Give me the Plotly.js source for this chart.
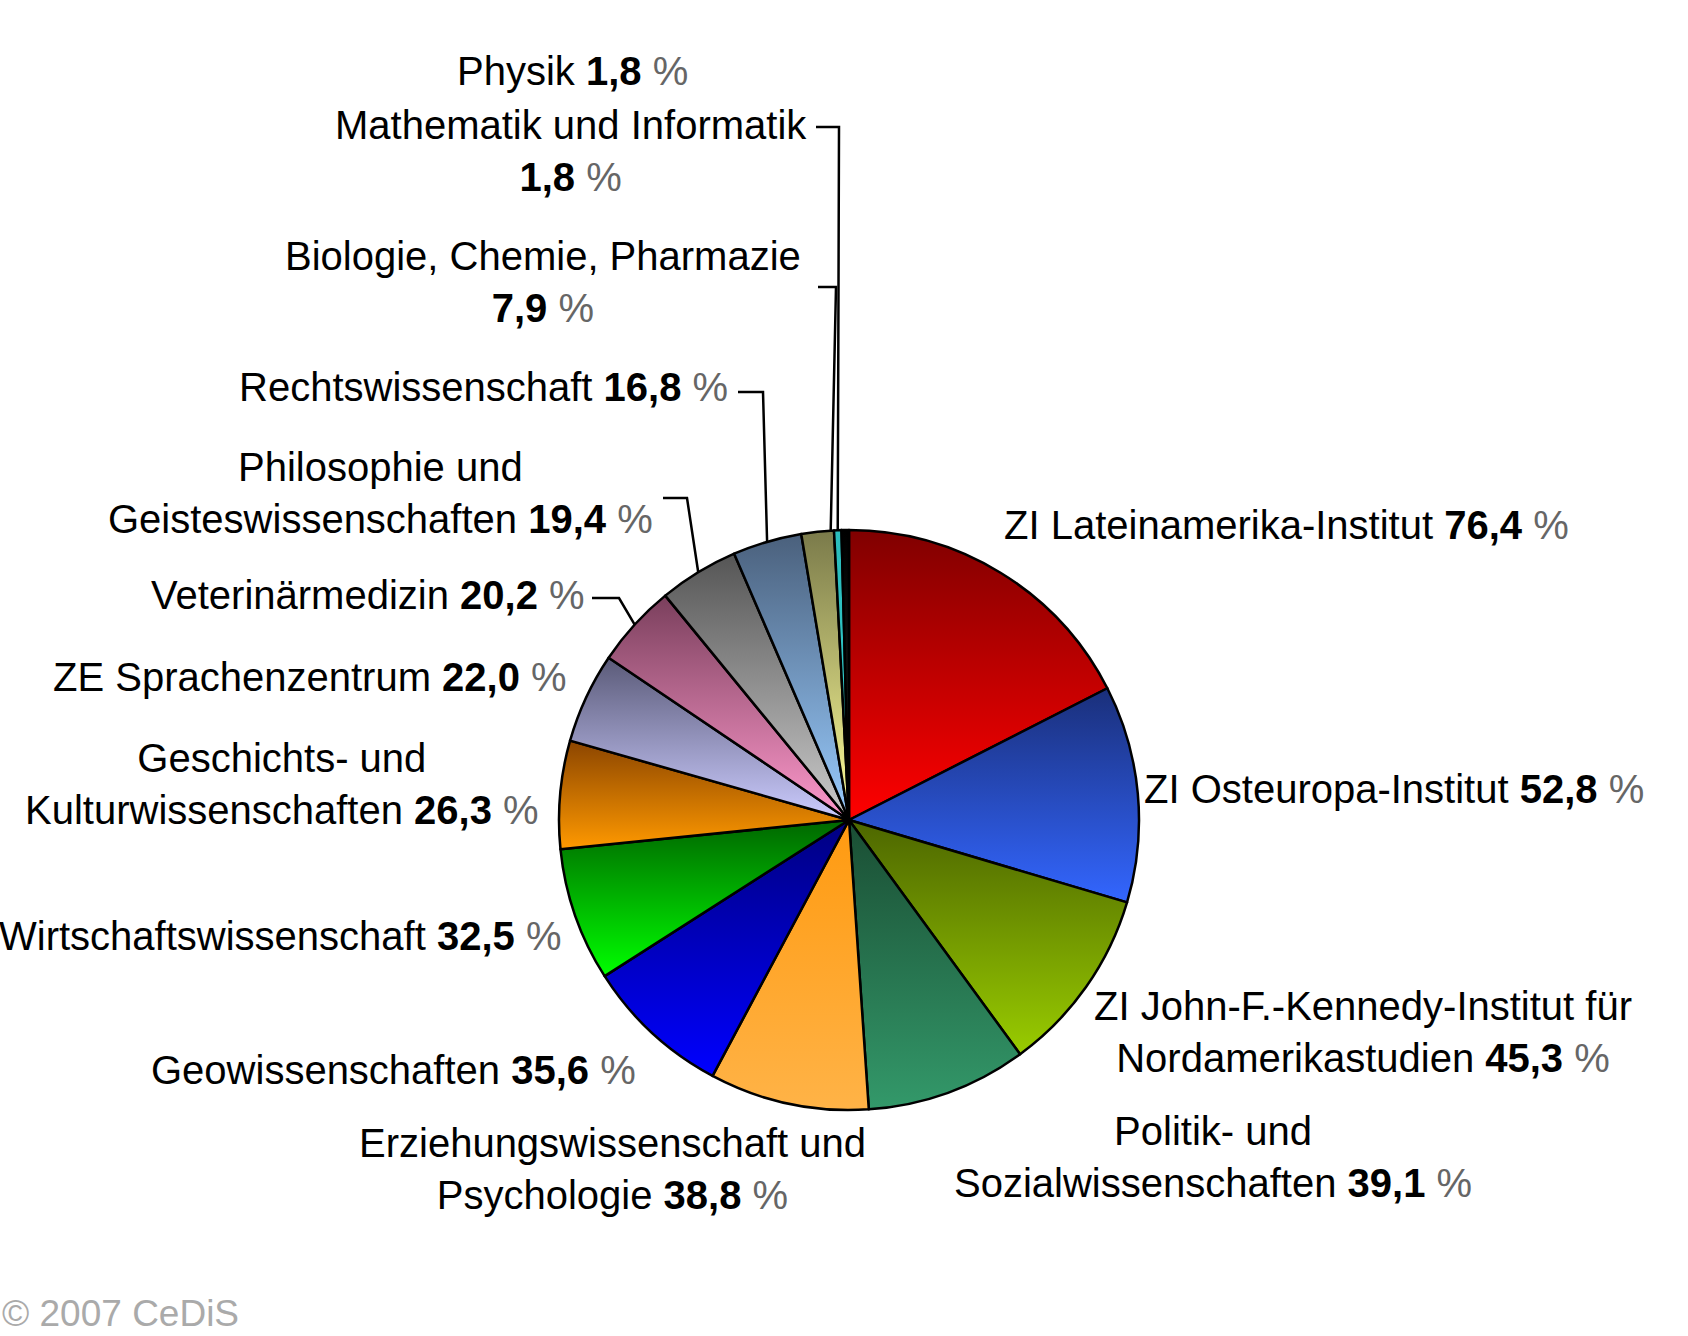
<!DOCTYPE html>
<html>
<head>
<meta charset="utf-8">
<script src="https://cdn.plot.ly/plotly-3.0.1.min.js"></script>
<style>
  html, body { margin: 0; padding: 0; background: #fff; }
  #chart { width: 1688px; height: 1336px; }
</style>
</head>
<body>
<div id="chart"></div>
<script>
// Anteile je Fachbereich, im Uhrzeigersinn ab 12 Uhr
var faecher = [
    'ZI Lateinamerika-Institut',
    'ZI Osteuropa-Institut',
    'ZI John-F.-Kennedy-Institut für<br>Nordamerikastudien',
    'Politik- und<br>Sozialwissenschaften',
    'Erziehungswissenschaft und<br>Psychologie',
    'Geowissenschaften',
    'Wirtschaftswissenschaft',
    'Geschichts- und<br>Kulturwissenschaften',
    'ZE Sprachenzentrum',
    'Veterinärmedizin',
    'Philosophie und<br>Geisteswissenschaften',
    'Rechtswissenschaft',
    'Biologie, Chemie, Pharmazie',
    'Mathematik und Informatik',
    'Physik'
];
var anteile = [76.4, 52.8, 45.3, 39.1, 38.8, 35.6, 32.5, 26.3, 22.0, 20.2, 19.4, 16.8, 7.9, 1.8, 1.8];

// Verlauf je Segment: oben dunkel, unten hell
var farbenOben  = ['#800000', '#1a2f7a', '#4d6600', '#1a4d33', '#ff9a10', '#000080', '#006600',
                   '#8b4500', '#5a5a78', '#7a3f5c', '#555555', '#4a607c', '#7a7a4a', '#2bbcbc', '#000000'];
var farbenUnten = ['#ff0000', '#3366ff', '#99cc00', '#33996a', '#ffb347', '#0000ff', '#00ff00',
                   '#ff9900', '#ccccff', '#ff99cc', '#cccccc', '#99ccff', '#ffff99', '#33cccc', '#222222'];
var farbenMitte = ['#d40000', '#2d55d8', '#789a00', '#2a8055', '#ffa733', '#0000d0', '#00b000',
                   '#d07800', '#a0a0d0', '#d07aa5', '#999999', '#7aa4d8', '#c8c580', '#33cccc', '#111111'];

var W = 1688, H = 1336;
// Kreis in Pixeln (y von oben)
var cx = 849, cy = 820, r = 290;

// Beschriftungen: Mitte des Textblocks, Wert in neuer Zeile?, Fuehrungslinie [x0, x1, y], Zielanteil im Segment
var beschriftung = [
    {x: 1286, y: 525},
    {x: 1394, y: 789},
    {x: 1363, y: 1032},
    {x: 1213, y: 1157},
    {x: 612,  y: 1169},
    {x: 393,  y: 1070},
    {x: 280,  y: 936},
    {x: 282,  y: 784},
    {x: 310,  y: 677},
    {x: 368,  y: 595, lead: [592, 619, 598]},
    {x: 380,  y: 493, lead: [663, 687, 498]},
    {x: 483,  y: 387, lead: [738, 763, 392]},
    {x: 543,  y: 282, neu: true, lead: [818, 836, 287], frac: 0.9},
    {x: 571,  y: 151, neu: true, lead: [816, 839, 127]},
    {x: 572,  y: 71}
];

function px(x) { return x / W; }
function py(y) { return 1 - y / H; }
function wert(v) { return v.toFixed(1).replace('.', ','); }

var summe = anteile.reduce(function (a, b) { return a + b; }, 0);

var annotations = [];
var shapes = [];
var kum = 0;
anteile.forEach(function (v, i) {
    var b = beschriftung[i];
    var txt = faecher[i] + (b.neu ? '<br>' : ' ') +
        '<b>' + wert(v) + '</b> <span style="color:#666">%</span>';
    annotations.push({
        text: txt, x: px(b.x), y: py(b.y), xref: 'paper', yref: 'paper',
        xanchor: 'center', yanchor: 'middle', align: 'center', showarrow: false,
        font: {family: 'Liberation Sans, Arial, sans-serif', size: 40, color: '#000'}
    });
    if (b.lead) {
        var f = b.frac === undefined ? 0.5 : b.frac;
        var a = (kum + f * v) / summe * 2 * Math.PI;
        var ex = cx + r * Math.sin(a), ey = cy - r * Math.cos(a);
        shapes.push({
            type: 'path', xref: 'paper', yref: 'paper',
            path: 'M ' + px(b.lead[0]) + ',' + py(b.lead[2]) +
                  ' L ' + px(b.lead[1]) + ',' + py(b.lead[2]) +
                  ' L ' + px(ex) + ',' + py(ey),
            line: {color: '#000', width: 2.5}
        });
    }
    kum += v;
});

annotations.push({
    text: '© 2007 CeDiS', x: 0, y: 0, xref: 'paper', yref: 'paper',
    xanchor: 'left', yanchor: 'bottom', showarrow: false,
    font: {family: 'Liberation Sans, Arial, sans-serif', size: 37, color: '#aaaaaa'}
});

var data = [{
    type: 'pie',
    values: anteile,
    labels: faecher.map(function (s) { return s.replace('<br>', ' '); }),
    sort: false,
    direction: 'clockwise',
    rotation: 0,
    textinfo: 'none',
    hoverinfo: 'none',
    domain: {x: [px(cx - r), px(cx + r)], y: [py(cy + r), py(cy - r)]},
    marker: {colors: farbenMitte, line: {color: '#000', width: 2.5}}
}];

var layout = {
    width: W,
    height: H,
    margin: {l: 0, r: 0, t: 0, b: 0},
    showlegend: false,
    paper_bgcolor: '#fff',
    annotations: annotations,
    shapes: shapes
};

var gd = document.getElementById('chart');
Plotly.newPlot(gd, data, layout, {displayModeBar: false, staticPlot: true}).then(function () {
    // senkrechter Farbverlauf pro Segment
    var svgNS = 'http://www.w3.org/2000/svg';
    var svg = gd.querySelector('svg.main-svg');
    var defs = svg.querySelector('defs') || svg.insertBefore(document.createElementNS(svgNS, 'defs'), svg.firstChild);
    farbenOben.forEach(function (c, i) {
        var g = document.createElementNS(svgNS, 'linearGradient');
        g.setAttribute('id', 'verlauf' + i);
        g.setAttribute('x1', '0'); g.setAttribute('y1', '0');
        g.setAttribute('x2', '0'); g.setAttribute('y2', '1');
        [[0, c], [1, farbenUnten[i]]].forEach(function (s) {
            var st = document.createElementNS(svgNS, 'stop');
            st.setAttribute('offset', s[0]);
            st.setAttribute('stop-color', s[1]);
            g.appendChild(st);
        });
        defs.appendChild(g);
    });
    gd.querySelectorAll('g.slice').forEach(function (sl, i) {
        var p = sl.querySelector('path.surface');
        if (p) p.style.fill = 'url(#verlauf' + i + ')';
    });
});
</script>
</body>
</html>
